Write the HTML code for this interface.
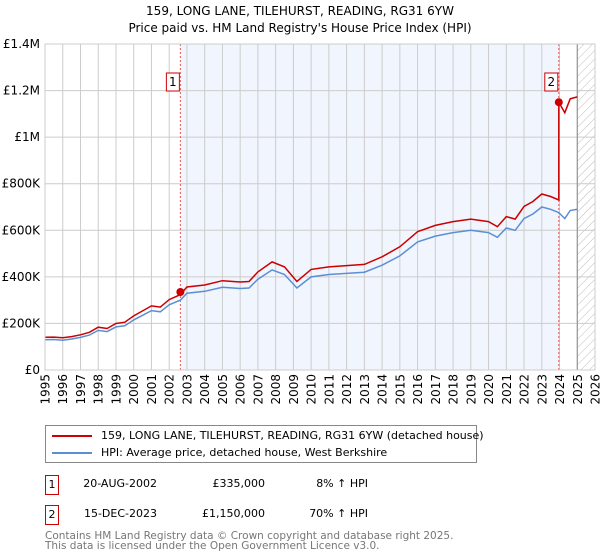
<!DOCTYPE html>
<html><head><meta charset="utf-8">
<style>
body{margin:0;background:#fff;font-family:"DejaVu Sans","Liberation Sans",sans-serif;}
#wrap{position:relative;width:600px;height:560px;overflow:hidden;}
.t{position:absolute;left:0;width:600px;text-align:center;font-size:12px;color:#000;}
.leg{position:absolute;left:45px;top:425px;width:430px;height:36px;border:1px solid #888;font-size:11px;}
.leg div{position:absolute;left:55px;white-space:nowrap;}
.ln{position:absolute;left:6px;width:40px;height:2px;}
.row{position:absolute;font-size:11px;white-space:nowrap;}
.box{position:absolute;left:45px;width:12px;height:18px;border:1px solid #c00;font-size:11px;text-align:center;line-height:18px;}
.foot{position:absolute;left:45px;font-size:10.5px;color:#777;white-space:nowrap;line-height:11px;}
</style></head><body>
<div id="wrap">
<div class="t" style="top:4px">159, LONG LANE, TILEHURST, READING, RG31 6YW</div>
<div class="t" style="top:21px">Price paid vs. HM Land Registry's House Price Index (HPI)</div>
<svg id="chart" width="600" height="420" style="position:absolute;left:0;top:0;font-family:'DejaVu Sans',sans-serif"></svg>
<div class="leg">
 <span class="ln" style="top:9px;background:#c00"></span>
 <div style="top:3px">159, LONG LANE, TILEHURST, READING, RG31 6YW (detached house)</div>
 <span class="ln" style="top:26px;background:#5b8fd4"></span>
 <div style="top:20px">HPI: Average price, detached house, West Berkshire</div>
</div>
<div class="box" style="top:475px">1</div>
<div class="row" style="top:477px;left:60px;width:97px;text-align:right">20-AUG-2002</div>
<div class="row" style="top:477px;left:160px;width:105px;text-align:right">£335,000</div>
<div class="row" style="top:477px;left:270px;width:98px;text-align:right">8% ↑ HPI</div>
<div class="box" style="top:505px">2</div>
<div class="row" style="top:507px;left:60px;width:97px;text-align:right">15-DEC-2023</div>
<div class="row" style="top:507px;left:160px;width:105px;text-align:right">£1,150,000</div>
<div class="row" style="top:507px;left:270px;width:98px;text-align:right">70% ↑ HPI</div>
<div class="foot" style="top:531px">Contains HM Land Registry data © Crown copyright and database right 2025.</div>
<div class="foot" style="top:541px">This data is licensed under the Open Government Licence v3.0.</div>
</div>
<script>
const hpiYears=[1995,1995.5,1996,1996.5,1997,1997.5,1998,1998.5,1999,1999.5,2000,2000.5,2001,2001.5,2002,2002.63,2003,2004,2005,2006,2006.5,2007,2007.8,2008.5,2009.2,2010,2011,2012,2013,2014,2015,2016,2017,2018,2019,2020,2020.5,2021,2021.5,2022,2022.5,2023,2023.5,2023.96,2024.3,2024.6,2025];
const hpiValues=[130,131,128,133,140,150,170,165,185,190,215,235,255,250,280,300,330,338,355,350,352,390,430,410,352,400,410,415,420,450,490,550,575,590,600,590,570,610,600,650,670,700,690,676,650,685,690];
const sales=[{n:"1",year:2002.63,price:335000},{n:"2",year:2023.96,price:1150000}];
const premiums=[1.08,1.70];
const yTicks=[0,200000,400000,600000,800000,1000000,1200000,1400000];
const yTickLabels=["£0","£200K","£400K","£600K","£800K","£1M","£1.2M","£1.4M"];
const xStart=1995,xEnd=2026,yMax=1400000;
const L=45,R=595,T=44,B=370;
const X=v=>L+(v-xStart)/(xEnd-xStart)*(R-L);
const Y=v=>B-v/yMax*(B-T);
const svg=document.getElementById('chart');const NS="http://www.w3.org/2000/svg";
function mk(tag,attrs,name,parent){const e=document.createElementNS(NS,tag);for(const k in attrs)e.setAttribute(k,attrs[k]);


(parent||svg).appendChild(e);return e;}
const defs=document.createElementNS(NS,'defs');defs.innerHTML='<pattern id="hatch" width="6" height="6" patternUnits="userSpaceOnUse" patternTransform="rotate(45)"><line x1="0" y1="0" x2="0" y2="6" stroke="#bbb" stroke-width="1"/></pattern>';svg.appendChild(defs);
mk('rect',{x:L,y:T,width:R-L,height:B-T,fill:'#fff'},'plot-background');
mk('rect',{x:X(sales[0].year),y:T,width:X(sales[1].year)-X(sales[0].year),height:B-T,fill:'#eef3fc',opacity:0.8},'ownership-period-shade');
mk('rect',{x:X(2025),y:T,width:R-X(2025),height:B-T,fill:'url(#hatch)'},'future-hatch');
for(let yr=xStart;yr<=xEnd;yr++){mk('line',{x1:X(yr),x2:X(yr),y1:T,y2:B,stroke:'#ccc','stroke-width':1},'x-gridline');
const t=mk('text',{x:0,y:0,transform:`translate(${X(yr)+4.5},374) rotate(-90)`,'text-anchor':'end','font-size':12,fill:'#000'},'x-tick-label');t.textContent=yr;}
yTicks.forEach((v,i)=>{mk('line',{x1:L,x2:R,y1:Y(v),y2:Y(v),stroke:'#ccc','stroke-width':1},'y-gridline');
const t=mk('text',{x:40,y:Y(v)+4,'text-anchor':'end','font-size':12,fill:'#000'},'y-tick-label');t.textContent=yTickLabels[i];});
mk('line',{x1:X(2025),x2:X(2025),y1:T,y2:B,stroke:'#888','stroke-width':1},'today-line');
sales.forEach(s=>{mk('line',{x1:X(s.year),x2:X(s.year),y1:T,y2:B,stroke:'#e55','stroke-width':1,'stroke-dasharray':'2,2'},'sale-vline');});
let hp='';hpiYears.forEach((y,i)=>{hp+=(i?'L':'M')+X(y).toFixed(1)+','+Y(hpiValues[i]*1000).toFixed(1);});
mk('path',{d:hp,fill:'none',stroke:'#5b8fd4','stroke-width':1.5},'hpi-line');
let rp='',started=false;
hpiYears.forEach((y,i)=>{let v;if(y<=sales[1].year-0.01)v=hpiValues[i]*1000*premiums[0];else v=hpiValues[i]*1000*premiums[1];
if(y>=sales[1].year-0.01&&y<=sales[1].year+0.01){rp+='L'+X(y).toFixed(1)+','+Y(hpiValues[i]*1000*premiums[0]).toFixed(1);v=sales[1].price;}
rp+=(started?'L':'M')+X(y).toFixed(1)+','+Y(v).toFixed(1);started=true;});
mk('path',{d:rp,fill:'none',stroke:'#c00','stroke-width':1.5},'property-line');
sales.forEach(s=>{mk('circle',{cx:X(s.year),cy:Y(s.price),r:4,fill:'#c00'},'sale-point');
mk('rect',{x:X(s.year)-14,y:73,width:13,height:18,fill:'#fff',stroke:'#c00'},'sale-label-box');
const t=mk('text',{x:X(s.year)-7.5,y:86,'text-anchor':'middle','font-size':12},'sale-label');t.textContent=s.n;});
mk('rect',{x:L,y:T,width:R-L,height:B-T,fill:'none',stroke:'#ccc'},'plot-border');
</script>
</body></html>
